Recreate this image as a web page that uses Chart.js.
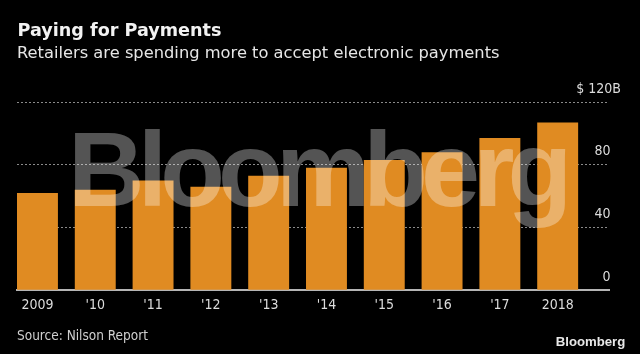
<!DOCTYPE html>
<html>
<head>
<meta charset="utf-8">
<script src="https://cdn.jsdelivr.net/npm/chart.js@4"></script>
<style>
	html, body { margin: 0; padding: 0; background: #000; }
	#wrap { position: relative; width: 640px; height: 354px; overflow: hidden; background: #000; }
	#chart { position: absolute; left: 0; top: 0; }
	.txt { position: absolute; white-space: nowrap; line-height: 1; }
	#title { left: 17.5px; top: 21.8px; font: bold 17.6px "DejaVu Sans"; color: #f2f2f2; line-height: 1; }
	#subtitle { left: 17px; top: 44.5px; font: 16.3px "DejaVu Sans"; color: #e6e6e6; line-height: 1; }
	#source { left: 17px; top: 329.3px; font: 13.5px "DejaVu Sans Condensed"; color: #cfcfcf; line-height: 1; }
	#logo { left: 555.7px; top: 334.5px; font: bold 13.2px "Liberation Sans"; color: #e8e8e8; line-height: 1; }
	#mark { left: 68px; top: 116px; font: bold 106px "Liberation Sans"; letter-spacing: -6.9px;
		color: rgba(255,255,255,0.33); line-height: 1; pointer-events: none; }
</style>
</head>
<body>
<div id="wrap">
	<canvas id="chart" width="640" height="354"></canvas>
	<div class="txt" id="title">Paying for Payments</div>
	<div class="txt" id="subtitle">Retailers are spending more to accept electronic payments</div>
	<div class="txt" id="source">Source: Nilson Report</div>
	<div class="txt" id="logo">Bloomberg</div>
	<div class="txt" id="mark">Bloomberg</div>
</div>
<script>
// data (billions of dollars)
const years = ['2009', "'10", "'11", "'12", "'13", "'14", "'15", "'16", "'17", '2018'];
const fees = [62, 64, 70, 66, 73, 78, 83, 88, 97, 107];
const yTicks = [0, 40, 80, 120];
const yTickLabels = ['0', '40', '80', '$ 120B'];

(() => {
	const ctx = document.getElementById('chart').getContext('2d');
	const tickFont = { family: '"DejaVu Sans Condensed"', size: 14 };
	const pad = '\u2007\u2009';

	new Chart(ctx, {
		type: 'bar',
		data: {
			datasets: [{
				data: fees.map((v, i) => ({ x: i, y: v })),
				backgroundColor: '#e08b22',
				borderWidth: 0,
				barPercentage: 0.708,
				categoryPercentage: 1
			}]
		},
		options: {
			responsive: false,
			animation: false,
			layout: { padding: { left: 17, right: 7, top: 102, bottom: 33 } },
			plugins: { legend: { display: false }, tooltip: { enabled: false } },
			scales: {
				x: {
					type: 'linear',
					offset: false,
					min: -0.354,
					max: 9.888,
					afterBuildTicks: s => { s.ticks = years.map((_, i) => ({ value: i })); },
					grid: { display: false, drawTicks: false, offset: false },
					border: { display: true, color: '#b5b5b5', width: 2 },
					ticks: {
						padding: 7,
						color: '#dcdcdc',
						font: tickFont,
						maxRotation: 0,
						autoSkip: false,
						callback: v => years[v]
					}
				},
				y: {
					position: 'right',
					min: 0,
					max: 120,
					afterBuildTicks: s => { s.ticks = yTicks.map(v => ({ value: v })); },
					grid: { color: '#8a8a8a', lineWidth: 1, drawTicks: false },
					border: { display: false, dash: [2, 2] },
					ticks: {
						mirror: true,
						padding: 12,
						labelOffset: -13,
						color: '#dcdcdc',
						font: tickFont,
						callback: v => {
							const i = yTicks.indexOf(v);
							return i === yTicks.length - 1 ? yTickLabels[i] : yTickLabels[i] + pad;
						}
					}
				}
			}
		}
	});
})();
</script>
</body>
</html>
